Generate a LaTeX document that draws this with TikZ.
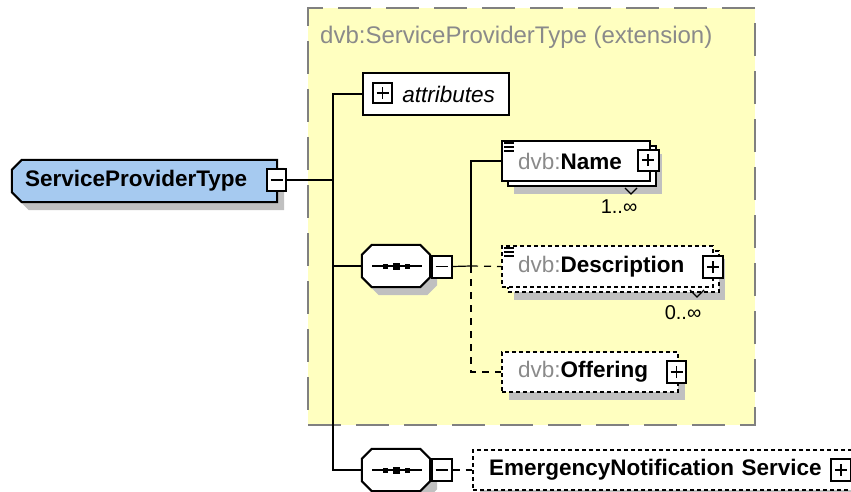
\documentclass[tikz,border=0pt]{standalone}
\usepackage{fontspec}
\setmainfont{Liberation Sans}
\usetikzlibrary{shadows, positioning, backgrounds}
\definecolor{typeblue}{HTML}{A6CAF0}
\definecolor{extyellow}{HTML}{FFFFC0}
\definecolor{shadowgray}{HTML}{C0C0C0}
\definecolor{prefixgray}{HTML}{8A8A8A}
\definecolor{framegray}{HTML}{808080}
\tikzstyle{link} = [draw, line width=2pt]
\tikzstyle{thinlink} = [draw, line width=1.2pt]
\tikzstyle{optlink} = [dash pattern=on 7pt off 6pt]
\tikzstyle{dropshade} = [general shadow={fill=shadowgray, shadow xshift=7pt, shadow yshift=-8pt}]
\tikzstyle{stackshade} = [general shadow={fill=shadowgray, shadow xshift=12pt, shadow yshift=-13pt}, general shadow={draw, fill=white, shadow xshift=6pt, shadow yshift=-5pt}]
\tikzstyle{box} = [rectangle, draw, line width=2pt, fill=white, inner xsep=16pt, inner ysep=0pt, minimum height=40pt, align=left]
\tikzstyle{block} = [box, dropshade]
\tikzstyle{stackbox} = [box, stackshade]
\tikzstyle{optional} = [dash pattern=on 4pt off 3pt]
\tikzstyle{togglebox} = [rectangle, draw, line width=2pt, fill=white, minimum width=20pt, minimum height=21pt, inner sep=0pt]
\tikzstyle{plusbox} = [togglebox, path picture={\draw[line width=1.5pt] ([xshift=-6pt]path picture bounding box.center) -- ([xshift=6pt]path picture bounding box.center) ([yshift=-6pt]path picture bounding box.center) -- ([yshift=6pt]path picture bounding box.center);}]
\tikzstyle{minusbox} = [togglebox, path picture={\draw[line width=1.5pt] ([xshift=-6pt]path picture bounding box.center) -- ([xshift=6pt]path picture bounding box.center);}]
\tikzstyle{seqbox} = [rectangle, minimum width=68pt, minimum height=42pt, inner sep=0pt]
\tikzstyle{typebox} = [rectangle, minimum width=265pt, minimum height=42pt, inner xsep=13pt, inner ysep=0pt, align=left]
\tikzstyle{extbox} = [rectangle, draw=framegray, line width=2.5pt, dash pattern=on 33pt off 15pt, fill=extyellow, minimum width=447pt, minimum height=417pt]
\tikzstyle{mult} = [inner sep=0pt, font=\fontsize{20}{24}\selectfont]

\begin{document}
\begin{tikzpicture}[x=1pt, y=-1pt, font=\fontsize{22.5}{27}\selectfont]
\useasboundingbox (0,0) rectangle (851,492);
% extension frame
\node [extbox] (ext) at (531.5,216.5) {};
\node [anchor=west, inner sep=0pt, text=prefixgray, font=\fontsize{24}{29}\selectfont] (title) at (320,37) {dvb:ServiceProviderType (extension)};
% complex type
\node [typebox, text width=239pt] (spt) at (144.5,181) {\textbf{ServiceProviderType}};
\begin{scope}[on background layer]
\draw [line width=2pt, fill=typeblue, dropshade] ([xshift=10pt]spt.north west) -- (spt.north east) -- (spt.south east) -- ([xshift=10pt]spt.south west) -- ([yshift=10pt]spt.south west) -- ([yshift=-10pt]spt.north west) -- cycle;
\end{scope}
\node [minusbox, minimum width=19pt, minimum height=22pt] (sptmin) at (276.5,180) {};
\node [box, text width=118pt, align=right, inner xsep=14pt, minimum height=42pt] (attr) at (436,94) {\textit{attributes}};
\node [plusbox, minimum width=19pt, minimum height=20pt] (attrplus) at (382.5,93) {};
% sequences
\node [seqbox] (seqa) at (396,266) {};
\node [seqbox] (seqb) at (396,470) {};
\foreach \s in {seqa, seqb} {
  \draw [line width=2pt, fill=white, dropshade] ([xshift=10pt]\s.north west) -- ([xshift=-10pt]\s.north east) -- ([yshift=-10pt]\s.north east) -- ([yshift=10pt]\s.south east) -- ([xshift=-10pt]\s.south east) -- ([xshift=10pt]\s.south west) -- ([yshift=10pt]\s.south west) -- ([yshift=-10pt]\s.north west) -- cycle;
  \draw [line width=1.5pt] ([xshift=-24pt]\s.center) -- ([xshift=26pt]\s.center);
  \fill ([shift={(-13pt,-2.5pt)}]\s.center) rectangle ++(5pt,5pt);
  \fill ([shift={(-3pt,-3.5pt)}]\s.center) rectangle ++(7pt,7pt);
  \fill ([shift={(9pt,-2.5pt)}]\s.center) rectangle ++(5pt,5pt);
}
\node [minusbox, minimum height=22pt] (seqamin) at (441.5,266.5) {};
\node [minusbox, minimum height=22pt] (seqbmin) at (441.5,470) {};
% elements
\node [stackbox, text width=116pt] (name) at (576,161) {\textcolor{prefixgray}{dvb:}\textbf{Name}};
\node [plusbox, minimum width=21pt] (nameplus) at (648,160) {};
\node [mult] (namemult) at (619,207) {1..∞};
\node [stackbox, optional, text width=179pt, minimum height=41pt] (desc) at (607.5,266.5) {\textcolor{prefixgray}{dvb:}\textbf{Description}};
\node [plusbox, minimum height=22pt] (descplus) at (713,267) {};
\node [mult] (descmult) at (683,313) {0..∞};
\node [block, optional, text width=144pt] (offer) at (590,372) {\textcolor{prefixgray}{dvb:}\textbf{Offering}};
\node [plusbox, minimum width=19pt, minimum height=22pt] (offerplus) at (676.5,372) {};
\node [block, optional, text width=365pt] (ens) at (671.5,470) {\textbf{EmergencyNotification Service}};
\node [plusbox, minimum height=22pt] (ensplus) at (841,470) {};
% little marks
\foreach \el in {name, desc}
  \foreach \dy in {3,7,11}
    \draw [line width=1.2pt] ([shift={(3,\dy)}]\el.north west) -- ++(10,0);
\draw [line width=1.2pt] ([shift={(-26,6)}]name.south east) -- ++(6,6) -- ++(6,-6);
\draw [line width=1.2pt] ([shift={(-24,2)}]desc.south east) -- ++(7,7) -- ++(7,-7);
% connectors
\coordinate (trunk) at (333,180);
\coordinate (fork) at (471,266);
\path [link] (sptmin.east) -- (trunk);
\path [link] (attr.west) -| (trunk) |- (seqb.west);
\path [thinlink] (seqa.west -| trunk) -- (seqa.west);
\path [thinlink] (seqamin.east) -- (fork);
\path [thinlink, optlink] (fork) -- (desc.west);
\path [link] (name.west) -| (fork);
\path [link, optlink] (fork) |- (offer.west);
\path [link, optlink] (seqbmin.east) -- (ens.west);
\end{tikzpicture}
\end{document}
